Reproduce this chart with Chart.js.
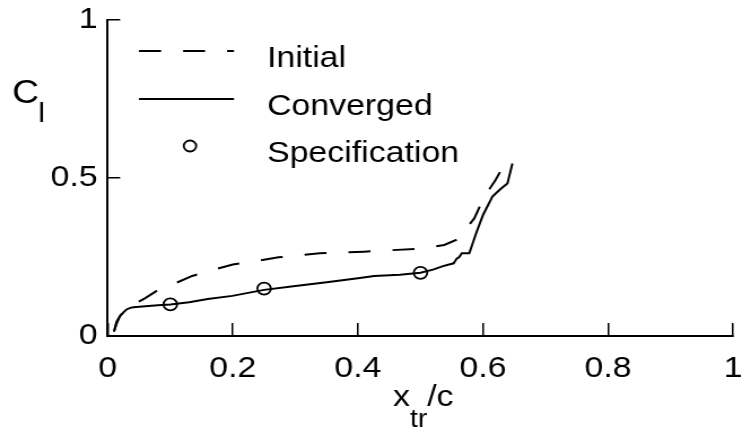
<!DOCTYPE html>
<html>
<head>
<meta charset="utf-8">
<script src="https://cdn.jsdelivr.net/npm/chart.js@4.4.1/dist/chart.umd.min.js"></script>
<style>
  html, body { margin: 0; padding: 0; background: #fff; overflow: hidden; }
  #wrap { width: 742px; height: 433px; overflow: hidden; }
  #c { transform: scaleX(1.12938); transform-origin: 0 0; }
</style>
</head>
<body>
<div id="wrap"><canvas id="c" width="657" height="433"></canvas></div>
<script>
// ---- data ----
const seriesNames = ['Initial', 'Converged', 'Specification'];

const initialX = [0.010, 0.014, 0.020, 0.030, 0.040, 0.048, 0.060, 0.0775, 0.100, 0.135, 0.167, 0.200, 0.236, 0.273, 0.339, 0.410, 0.505, 0.538, 0.557, 0.565, 0.575, 0.586, 0.602, 0.620, 0.629, 0.637, 0.640];
const initialY = [0.014, 0.045, 0.065, 0.087, 0.100, 0.107, 0.120, 0.142,  0.160, 0.190, 0.209, 0.226, 0.237, 0.249, 0.262, 0.267, 0.277, 0.288, 0.304, 0.320, 0.345, 0.372, 0.441, 0.494, 0.525, 0.530, 0.532];

const convergedX = [0.010, 0.014, 0.019, 0.025, 0.030, 0.036, 0.041, 0.060, 0.080, 0.100, 0.130, 0.160, 0.199, 0.250, 0.300, 0.350, 0.400, 0.426, 0.467, 0.500, 0.520, 0.536, 0.553, 0.558, 0.562, 0.566, 0.578, 0.589, 0.600, 0.615, 0.628, 0.639, 0.647];
const convergedY = [0.014, 0.038, 0.061, 0.075, 0.084, 0.089, 0.091, 0.094, 0.097, 0.100, 0.107, 0.117, 0.127, 0.146, 0.158, 0.170, 0.183, 0.190, 0.194, 0.200, 0.210, 0.221, 0.230, 0.245, 0.250, 0.262, 0.262, 0.325, 0.383, 0.441, 0.465, 0.483, 0.546];

const specX = [0.10, 0.25, 0.50];
const specY = [0.10, 0.15, 0.20];

const xTickLabels = ['0', '0.2', '0.4', '0.6', '0.8', '1'];
const yTickLabels = ['0', '0.5', '1'];

const xTitleParts = ['x', 'tr', '/c'];
const yTitleParts = ['C', 'l'];

// ---- helpers ----
const pts = (xs, ys) => xs.map((x, i) => ({ x: x, y: ys[i] }));
const FONT = '"Liberation Sans", Arial, Helvetica, sans-serif';

const overlay = {
  id: 'overlay',
  afterDraw(chart) {
    const ctx = chart.ctx;
    ctx.save();
    ctx.fillStyle = '#000';
    ctx.textBaseline = 'alphabetic';
    ctx.textAlign = 'left';

    // legend
    const rowsY = [51, 99, 146];
    const x0 = 123.1, x1 = 207.2, textX = 236.4, markX = 168.2;
    chart.data.datasets.forEach((ds, i) => {
      const y = rowsY[i];
      ctx.save();
      if (ds.showLine) {
        ctx.strokeStyle = ds.borderColor;
        ctx.lineWidth = ds.borderWidth;
        ctx.setLineDash(ds.borderDash || []);
        ctx.beginPath();
        ctx.moveTo(x0, y);
        ctx.lineTo(x1, y);
        ctx.stroke();
      } else {
        ctx.fillStyle = ds.pointBackgroundColor;
        ctx.strokeStyle = ds.pointBorderColor;
        ctx.lineWidth = ds.pointBorderWidth;
        ctx.beginPath();
        ctx.arc(markX, y, ds.pointRadius - 0.5, 0, Math.PI * 2);
        ctx.fill();
        ctx.stroke();
      }
      ctx.restore();
      ctx.font = '30px ' + FONT;
      ctx.fillText(ds.label, textX, y + 15.5);
    });

    // x axis title: x_tr/c
    let x = 348;
    ctx.font = '30px ' + FONT;
    ctx.fillText(xTitleParts[0], x, 405.5);
    x += ctx.measureText(xTitleParts[0]).width;
    ctx.font = '25px ' + FONT;
    ctx.fillText(xTitleParts[1], x, 426.5);
    x += ctx.measureText(xTitleParts[1]).width;
    ctx.font = '30px ' + FONT;
    ctx.fillText(xTitleParts[2], x, 405.5);

    // y axis title: C_l
    x = 10.8;
    ctx.font = '33px ' + FONT;
    ctx.fillText(yTitleParts[0], x, 103.3);
    x += ctx.measureText(yTitleParts[0]).width;
    ctx.font = '28px ' + FONT;
    ctx.fillText(yTitleParts[1], x - 1, 121.7);

    ctx.restore();
  }
};

new Chart(document.getElementById('c'), {
  type: 'scatter',
  data: {
    datasets: [
      {
        label: seriesNames[0],
        data: pts(initialX, initialY),
        showLine: true,
        borderColor: '#000',
        borderWidth: 2,
        borderDash: [19.5, 19.5],
        pointRadius: 0,
        fill: false,
        tension: 0
      },
      {
        label: seriesNames[1],
        data: pts(convergedX, convergedY),
        showLine: true,
        borderColor: '#000',
        borderWidth: 2,
        pointRadius: 0,
        fill: false,
        tension: 0
      },
      {
        label: seriesNames[2],
        data: pts(specX, specY),
        showLine: false,
        pointRadius: 6,
        pointBackgroundColor: '#fff',
        pointBorderColor: '#000',
        pointBorderWidth: 1.8
      }
    ]
  },
  options: {
    responsive: false,
    animation: false,
    devicePixelRatio: 1,
    layout: { padding: { top: 20, right: 1.8, left: 0, bottom: 0 } },
    plugins: {
      legend: { display: false },
      tooltip: { enabled: false },
      title: { display: false }
    },
    scales: {
      x: {
        type: 'linear',
        min: 0, max: 1,
        border: { display: true, color: '#000', width: 2 },
        grid: { drawOnChartArea: false, drawTicks: true, tickLength: -13, color: '#000', lineWidth: 1.5 },
        ticks: {
          stepSize: 0.2,
          autoSkip: false,
          maxRotation: 0,
          padding: 28,
          color: '#000',
          font: { family: FONT, size: 30 },
          callback: (v, i) => xTickLabels[i]
        },
        afterFit: (s) => { s.height = 97; s.paddingLeft = 0; s.paddingRight = 0; }
      },
      y: {
        type: 'linear',
        min: 0, max: 1,
        border: { display: true, color: '#000', width: 2 },
        grid: { drawOnChartArea: false, drawTicks: true, tickLength: -11, color: '#000', lineWidth: 1.5 },
        ticks: {
          stepSize: 0.5,
          autoSkip: false,
          padding: 20,
          color: '#000',
          font: { family: FONT, size: 30 },
          callback: (v, i) => yTickLabels[i]
        },
        afterFit: (s) => { s.width = 95.4; s.paddingTop = 0; s.paddingBottom = 0; }
      }
    }
  },
  plugins: [overlay]
});
</script>
</body>
</html>
